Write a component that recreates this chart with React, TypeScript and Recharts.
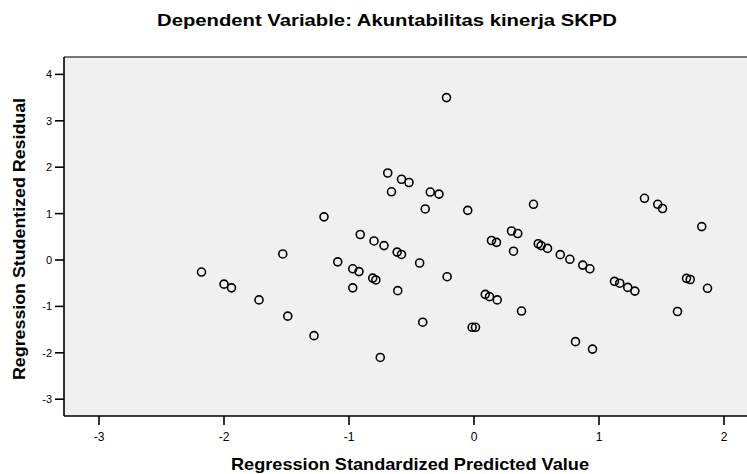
import {
  ScatterChart,
  Scatter,
  XAxis,
  YAxis,
  CartesianGrid,
  ReferenceLine,
} from "recharts";

// standardized predicted value (x) and studentized residual (y)
const predicted = [
  -2.18, -2.0, -1.94, -1.72, -1.53, -1.49, -1.28, -1.2, -1.09, -0.97, -0.92,
  -0.97, -0.91, -0.8, -0.81, -0.785, -0.75, -0.72, -0.69, -0.66, -0.615, -0.58,
  -0.61, -0.58, -0.52, -0.435, -0.41, -0.39, -0.35, -0.28, -0.22, -0.215, -0.05,
  -0.015, 0.012, 0.09, 0.124, 0.186, 0.14, 0.18, 0.3, 0.35, 0.316, 0.38, 0.476,
  0.514, 0.537, 0.588, 0.69, 0.767, 0.812, 0.87, 0.927, 0.948, 1.124, 1.166,
  1.23, 1.287, 1.364, 1.47, 1.508, 1.628, 1.7, 1.73, 1.822, 1.868,
];
const residual = [
  -0.26, -0.52, -0.6, -0.86, 0.13, -1.21, -1.63, 0.93, -0.04, -0.19, -0.25,
  -0.6, 0.55, 0.41, -0.39, -0.43, -2.1, 0.31, 1.875, 1.47, 0.17, 0.12, -0.66,
  1.74, 1.67, -0.065, -1.34, 1.1, 1.465, 1.42, 3.5, -0.36, 1.07, -1.45, -1.45,
  -0.74, -0.79, -0.86, 0.42, 0.38, 0.625, 0.57, 0.19, -1.1, 1.2, 0.35, 0.31,
  0.25, 0.115, 0.015, -1.76, -0.11, -0.19, -1.92, -0.46, -0.5, -0.59, -0.67,
  1.33, 1.2, 1.11, -1.11, -0.395, -0.42, 0.72, -0.61,
];

const xTicks = [-3, -2, -1, 0, 1, 2];
const yTicks = [-3, -2, -1, 0, 1, 2, 3, 4];

const title = "Dependent Variable: Akuntabilitas kinerja SKPD";
const xTitle = "Regression Standardized Predicted Value";
const yTitle = "Regression Studentized Residual";

const points = predicted.map((x, i) => ({ x, y: residual[i] }));

const font = "'Liberation Sans', Arial, sans-serif";

const Ring = (props: any) => (
  <circle
    cx={props.cx}
    cy={props.cy}
    r={4}
    fill="none"
    stroke="#000"
    strokeWidth={1.6}
  />
);

export default function App() {
  return (
    <div style={{ position: "relative", width: 747, height: 474, background: "#fff" }}>
      <style>{`body{margin:0}`}</style>
      <ScatterChart
        width={747}
        height={474}
        margin={{ top: 57, right: 0, bottom: 0, left: 0 }}
      >
        <CartesianGrid fill="#f0f0f0" horizontal={false} vertical={false} />
        <XAxis
          type="number"
          dataKey="x"
          domain={[-3.28, 2.184]}
          ticks={xTicks}
          interval={0}
          allowDataOverflow
          height={58}
          axisLine={{ stroke: "#000", strokeWidth: 1.6 }}
          tickLine={{ stroke: "#000", strokeWidth: 1.6 }}
          tickSize={9}
          tickMargin={7}
          tick={{ fill: "#000", fontSize: 12, fontFamily: font }}
        />
        <YAxis
          type="number"
          dataKey="y"
          domain={[-3.362, 4.375]}
          ticks={yTicks}
          interval={0}
          allowDataOverflow
          width={64}
          axisLine={{ stroke: "#000", strokeWidth: 1.6 }}
          tickLine={{ stroke: "#000", strokeWidth: 1.6 }}
          tickSize={9}
          tickMargin={3}
          tick={{ fill: "#000", fontSize: 11, fontFamily: font }}
        />
        <ReferenceLine y={4.375} stroke="#777" strokeWidth={2} />
        <Scatter data={points} shape={Ring} isAnimationActive={false} />
      </ScatterChart>
      <svg
        width={747}
        height={474}
        style={{ position: "absolute", left: 0, top: 0, pointerEvents: "none" }}
      >
        <text
          x={387}
          y={26}
          textAnchor="middle"
          fontFamily={font}
          fontWeight="bold"
          fontSize={17}
          textLength={460}
          lengthAdjust="spacingAndGlyphs"
        >
          {title}
        </text>
        <text
          x={410}
          y={470}
          textAnchor="middle"
          fontFamily={font}
          fontWeight="bold"
          fontSize={17}
          textLength={358}
          lengthAdjust="spacingAndGlyphs"
        >
          {xTitle}
        </text>
        <text
          transform="translate(25,239) rotate(-90)"
          textAnchor="middle"
          fontFamily={font}
          fontWeight="bold"
          fontSize={16}
          textLength={282}
          lengthAdjust="spacingAndGlyphs"
        >
          {yTitle}
        </text>
      </svg>
    </div>
  );
}
